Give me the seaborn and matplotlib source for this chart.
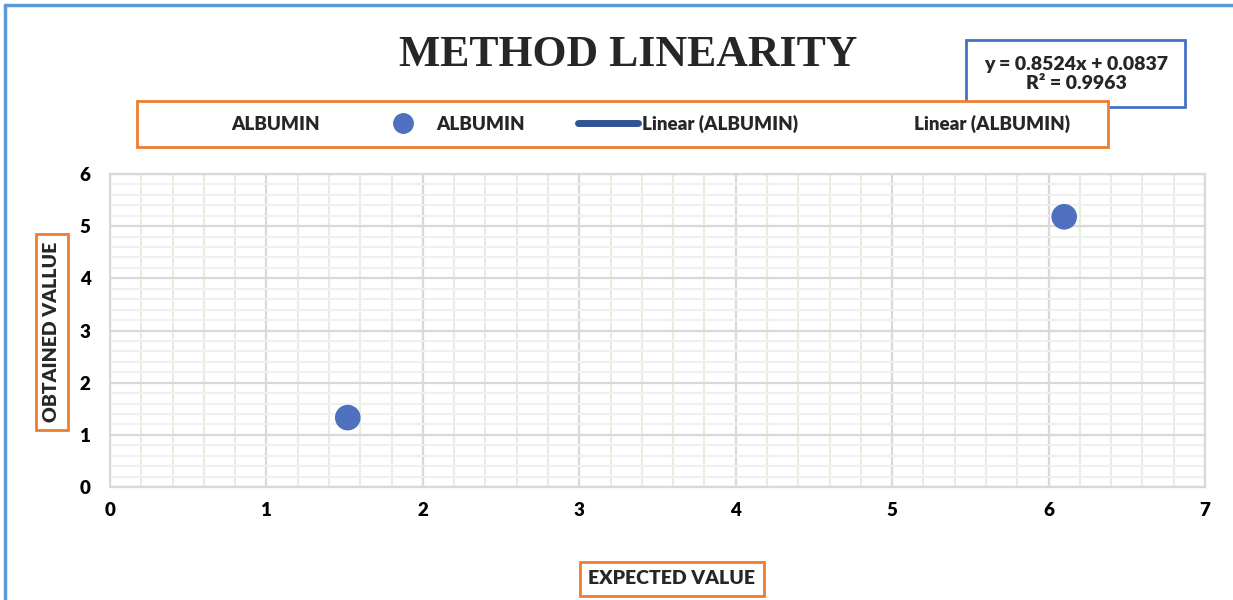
import numpy as np
import pandas as pd
import matplotlib
matplotlib.use("Agg")
import matplotlib.pyplot as plt
from matplotlib.lines import Line2D
from matplotlib.ticker import MultipleLocator
import seaborn as sns

# ---- data ----
expected = [1.52, 6.10]
obtained = [1.33, 5.18]
x_ticks = [0, 1, 2, 3, 4, 5, 6, 7]
y_ticks = [0, 1, 2, 3, 4, 5, 6]
title = "METHOD LINEARITY"
equation = "y = 0.8524x + 0.0837\nR² = 0.9963"
series = "ALBUMIN"

df = pd.DataFrame({"expected": expected, "obtained": obtained})

sns.set_theme(style="white")
plt.rcParams['font.family'] = ['Lato', 'DejaVu Sans']

fig = plt.figure(figsize=(12.33, 6.0), dpi=100)
ax = fig.add_axes([110/1233, 1-487/600, (1205-110)/1233, (487-174)/600])

ax.set_xlim(0, 7)
ax.set_ylim(0, 6)
ax.xaxis.set_minor_locator(MultipleLocator(0.2))
ax.yaxis.set_minor_locator(MultipleLocator(0.2))
ax.set_xticks(x_ticks)
ax.set_yticks(y_ticks)
ax.grid(which='minor', axis='x', color='#e2efda', linewidth=1.5, zorder=0)
ax.grid(which='minor', axis='y', color='#f0f0f0', linewidth=1.5, zorder=0)
ax.grid(which='major', axis='both', color='#d9d9d9', linewidth=1.6, zorder=1)
ax.set_axisbelow(True)
ax.tick_params(which='both', length=0)
ax.tick_params(axis='x', pad=11)
ax.tick_params(axis='y', pad=14)
for lab in ax.get_xticklabels() + ax.get_yticklabels():
    lab.set_fontweight('heavy')
    lab.set_fontsize(13.5)
    lab.set_color('black')
for s in ax.spines.values():
    s.set_color('#d9d9d9')
    s.set_linewidth(1.6)

sns.scatterplot(data=df, x="expected", y="obtained", ax=ax, color='#4f6fbf',
                s=340, marker='o', edgecolor='none', zorder=3, legend=False)
ax.set_xlabel("")
ax.set_ylabel("")

# title
fig.text(628/1233, 1-55/600, title, ha='center', va='center',
         fontsize=31.5, fontweight='bold', family=['Liberation Serif', 'DejaVu Serif'])

# equation box
fig.add_artist(plt.Rectangle((966/1233, 1-107/600), (1185-966)/1233, 67/600,
                             transform=fig.transFigure, facecolor='white',
                             edgecolor='#4472c4', linewidth=2, zorder=0.4))
fig.text(1076/1233, 1-74/600, equation, ha='center', va='center',
         fontsize=14, fontweight='heavy', linespacing=1.15, zorder=3)

# legend box and legend
fig.add_artist(plt.Rectangle((137/1233, 1-147/600), (1108-137)/1233, 46/600,
                             transform=fig.transFigure, fill=True, facecolor='white',
                             edgecolor='#ed7d31', linewidth=2, zorder=0.5))
handles = [
    Line2D([], [], linestyle='none', marker=None),
    Line2D([], [], linestyle='none', marker='o', markersize=14, color='#4f6fbf'),
    Line2D([], [], linestyle='-', linewidth=5, color='#2f5597'),
    Line2D([], [], linestyle='none', marker=None),
]
labels = [series, series, f"Linear ({series})", f"Linear ({series})"]
leg = fig.legend(handles, labels, ncol=4, mode='expand',
                 bbox_to_anchor=(160/1233, 1-147/600, 918/1233, 46/600),
                 loc='center', frameon=False,
                 prop=dict(weight='heavy', size=13.5), handlelength=3.2,
                 handletextpad=0.2, borderaxespad=0)

# axis labels in orange boxes
fig.text(52/1233, 1-332/600, "OBTAINED VALLUE", rotation=90, ha='center', va='center',
         fontsize=14, fontweight='heavy',
         bbox=dict(boxstyle='square,pad=0.4', facecolor='white', edgecolor='#ed7d31', linewidth=2))
fig.text(672/1233, 1-579/600, "EXPECTED VALUE", ha='center', va='center',
         fontsize=14, fontweight='heavy',
         bbox=dict(boxstyle='square,pad=0.45', facecolor='white', edgecolor='#ed7d31', linewidth=2))

# outer blue frame (left and top)
fig.add_artist(Line2D([5/1233, 5/1233], [0, 1-5/600], transform=fig.transFigure,
                      color='#5b9bd5', linewidth=2.5))
fig.add_artist(Line2D([5/1233, 1], [1-5/600, 1-5/600], transform=fig.transFigure,
                      color='#5b9bd5', linewidth=2.5))

fig.savefig("out.png", dpi=100, facecolor='white')
